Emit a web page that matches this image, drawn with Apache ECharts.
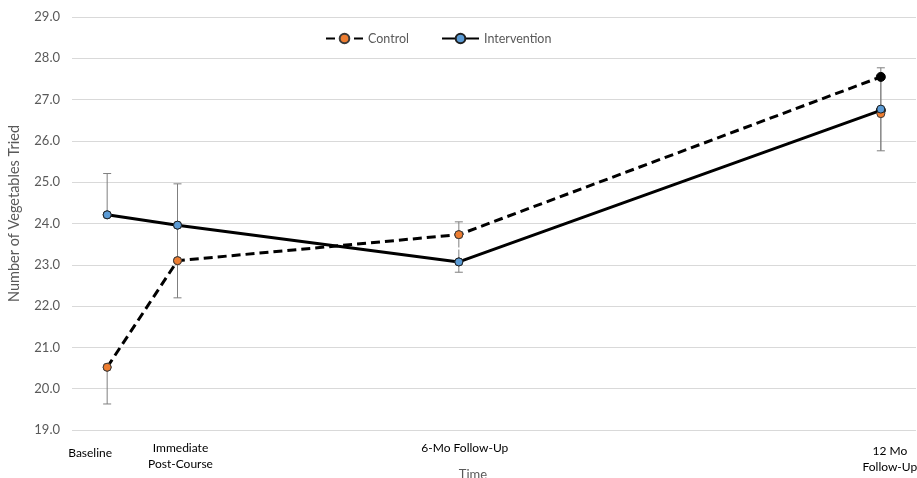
<!DOCTYPE html>
<html><head><meta charset="utf-8">
<script src="https://cdn.jsdelivr.net/npm/echarts@6/dist/echarts.min.js"></script>
<style>html,body{margin:0;padding:0;background:#fff}#c{width:917px;height:478px}</style>
</head><body><div id="c"></div>
<script>
// time positions (months) for each measurement occasion
const timeX = [0, 1, 5, 11];
const timeLabels = ['Baseline', 'Immediate\nPost-Course', '6-Mo Follow-Up', '12 Mo\nFollow-Up'];
// line values (as drawn by the lines)
const controlLine = [20.52, 23.10, 23.73, 27.55];
const interventionLine = [24.21, 23.96, 23.07, 26.74];
// marker (mean) values
const controlMean = [20.52, 23.10, 23.73, 26.66];
const interventionMean = [24.21, 23.96, 23.07, 26.77];
// error bars (plus / minus)
const controlPlus = [0, 0.90, 0.31, 0.90];
const controlMinus = [0.89, 0.90, 0.31, 0.90];
const interventionPlus = [1.00, 1.00, 0.30, 1.00];
const interventionMinus = [0, 1.00, 0.25, 1.00];
const yTicks = [19, 20, 21, 22, 23, 24, 25, 26, 27, 28, 29];

const FONT = 'Lato';
const ORANGE = '#ED7D31', BLUE = '#5B9BD5';

// error bar segments
const errData = [];
timeX.forEach((x, i) => {
  const segs = [];
  if (controlMinus[i]) segs.push([controlMean[i] - controlMinus[i], controlMean[i]]);
  if (controlPlus[i]) segs.push([controlMean[i], controlMean[i] + controlPlus[i]]);
  if (interventionMinus[i]) segs.push([interventionMean[i] - interventionMinus[i], interventionMean[i]]);
  if (interventionPlus[i]) segs.push([interventionMean[i], interventionMean[i] + interventionPlus[i]]);
  const lo = Math.min(...segs.map(s => s[0])), hi = Math.max(...segs.map(s => s[1]));
  segs.forEach(s => errData.push([x, s[0], s[1], s[0] === lo ? 1 : 0, s[1] === hi ? 1 : 0]));
});

const lineData = (vals) => vals.map((v, i) => i === vals.length - 1
  ? { value: [timeX[i], v], symbol: 'circle', symbolSize: 9, itemStyle: { color: '#000', borderColor: '#000' } }
  : { value: [timeX[i], v] });

const richKey = ['b', 'i', 's', 't'];
const richStyles = {
  b: { padding: [11, 34, 0, 0], lineHeight: 16, fontSize: 12, color: '#000', fontFamily: FONT },
  i: { padding: [0, 0, 0, 6], lineHeight: 16, fontSize: 12, color: '#000', fontFamily: FONT },
  s: { padding: [0, 0, 0, 12], lineHeight: 16, fontSize: 12, color: '#000', fontFamily: FONT },
  t: { padding: [7, 0, 0, 18], lineHeight: 16, fontSize: 12, color: '#000', fontFamily: FONT }
};
const fmt = (v) => {
  const i = timeX.indexOf(v);
  if (i < 0) return '';
  return timeLabels[i].split('\n').map(t => '{' + richKey[i] + '|' + t + '}').join('\n');
};
const baseAxis = {
  type: 'value', min: -0.5, max: 11.5, position: 'bottom',
  axisLine: { show: false }, axisTick: { show: false }, splitLine: { show: false }
};

const chart = echarts.init(document.getElementById('c'));
chart.setOption({
  animation: false,
  textStyle: { fontFamily: FONT },
  grid: { left: 72, right: 1, top: 17, bottom: 48, containLabel: false, outerBoundsMode: 'none' },
  legend: {
    top: 32, left: 325, padding: 0, itemWidth: 37, itemHeight: 12, itemGap: 32,
    textStyle: { color: '#595959', fontSize: 12.5, fontFamily: FONT },
    data: ['Control', 'Intervention']
  },
  xAxis: [
    Object.assign({}, baseAxis, {
      name: 'Time', nameLocation: 'middle', nameGap: 38, nameMoveOverlap: false,
      nameTextStyle: { color: '#595959', fontSize: 13, fontFamily: FONT, padding: [0, 42, 0, 0] },
      axisLabel: {
        customValues: timeX.slice(1), margin: 10, verticalAlign: 'top', color: '#000', fontSize: 12, fontFamily: FONT,
        hideOverlap: false, formatter: fmt, rich: richStyles
      }
    }),
    Object.assign({}, baseAxis, {
      axisLabel: {
        customValues: timeX.slice(0, 1), margin: 10, verticalAlign: 'top', color: '#000', fontSize: 12, fontFamily: FONT,
        hideOverlap: false, formatter: fmt, rich: richStyles
      }
    })
  ],
  yAxis: {
    type: 'value', min: yTicks[0], max: yTicks[yTicks.length - 1], interval: 1,
    name: 'Number of Vegetables Tried', nameLocation: 'middle', nameGap: 50, nameMoveOverlap: false,
    nameTextStyle: { color: '#595959', fontSize: 14.5, fontFamily: FONT, padding: [0, 0, 0, 20] },
    axisLine: { show: false }, axisTick: { show: false },
    axisLabel: { color: '#595959', fontSize: 13, margin: 12, formatter: v => v.toFixed(1) },
    splitLine: { lineStyle: { color: '#d9d9d9', width: 1 } }
  },
  series: [
    {
      type: 'custom', name: 'err', silent: true, z: 1,
      renderItem: (params, api) => {
        const x = api.value(0), lo = api.value(1), hi = api.value(2);
        const p1 = api.coord([x, lo]), p2 = api.coord([x, hi]);
        const style = { stroke: '#7f7f7f', lineWidth: 1 };
        const ch = [{ type: 'line', shape: { x1: p1[0], y1: p1[1], x2: p2[0], y2: p2[1] }, style }];
        if (api.value(3)) ch.push({ type: 'line', shape: { x1: p1[0] - 4, y1: p1[1], x2: p1[0] + 4, y2: p1[1] }, style });
        if (api.value(4)) ch.push({ type: 'line', shape: { x1: p2[0] - 4, y1: p2[1], x2: p2[0] + 4, y2: p2[1] }, style });
        return { type: 'group', children: ch };
      },
      data: errData
    },
    {
      type: 'line', name: 'Control', z: 3, symbol: 'circle', symbolSize: 8, showAllSymbol: true,
      lineStyle: { color: '#000', width: 3, type: [9, 5] },
      itemStyle: { color: ORANGE, borderColor: '#3a3a3a', borderWidth: 1 },
      data: lineData(controlLine)
    },
    {
      type: 'line', name: 'Intervention', z: 3, symbol: 'circle', symbolSize: 8, showAllSymbol: true,
      lineStyle: { color: '#000', width: 3 },
      itemStyle: { color: BLUE, borderColor: '#1f1f1f', borderWidth: 1 },
      data: lineData(interventionLine)
    },
    {
      type: 'scatter', name: 'ControlMean', z: 4, symbol: 'circle', symbolSize: 8,
      itemStyle: { color: ORANGE, borderColor: '#3a3a3a', borderWidth: 1, opacity: 1 },
      data: controlMean.map((v, i) => [timeX[i], v])
    },
    {
      type: 'scatter', name: 'InterventionMean', z: 5, symbol: 'circle', symbolSize: 8,
      itemStyle: { color: BLUE, borderColor: '#1f1f1f', borderWidth: 1, opacity: 1 },
      data: interventionMean.map((v, i) => [timeX[i], v])
    }
  ]
});
</script></body></html>
